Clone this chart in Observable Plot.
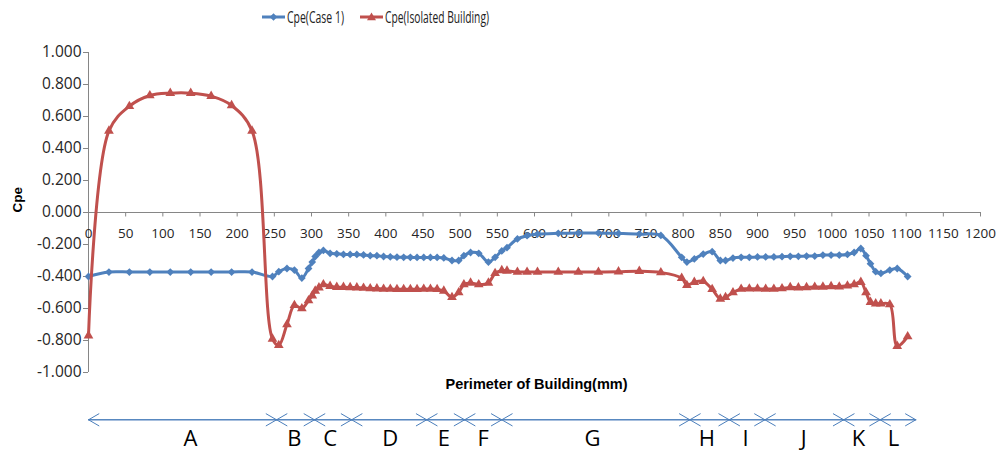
<!DOCTYPE html>
<html><head><meta charset="utf-8">
<script src="https://cdn.jsdelivr.net/npm/d3@7"></script>
<script src="https://cdn.jsdelivr.net/npm/@observablehq/plot@0.6"></script>
<style>
body{margin:0;background:#fff;width:999px;height:453px;overflow:hidden;}
#legend{position:relative;height:35px;width:999px;}
.item{position:absolute;top:8px;height:18px;display:flex;align-items:center;font-family:"Open Sans",sans-serif;font-size:15.5px;color:#222;white-space:nowrap;}
.item svg{margin-right:2px;flex:none;}
.item span{display:inline-block;transform-origin:0 50%;}
#chart svg{display:block;}
</style></head><body>
<div id="legend"></div>
<div id="chart"></div>
<script>
// ---- data ----
const perimeter = [0, 27.5, 55, 82.5, 110, 137.5, 165, 192.5, 220, 247.5,
  256, 267, 277, 287, 296,
  301, 305, 310, 316, 325, 334, 343,
  352, 361, 370, 379, 388, 397, 406, 415, 424, 433, 442, 451, 460, 469, 478,
  489, 498, 505,
  514, 525, 538, 547, 556,
  563, 577, 590, 604, 632, 659, 686, 713, 741, 770,
  798, 805, 815, 827, 839, 850,
  857, 867, 878, 889, 900, 911,
  922, 933, 944, 955, 966, 977, 988, 999, 1010, 1021, 1030,
  1039, 1046, 1052, 1059,
  1066, 1078, 1088, 1102];
const cpeCase1 = [-0.40, -0.372, -0.372, -0.372, -0.372, -0.372, -0.372, -0.372, -0.372, -0.40,
  -0.37, -0.35, -0.36, -0.41, -0.35,
  -0.31, -0.275, -0.25, -0.237, -0.255, -0.258, -0.262,
  -0.262, -0.262, -0.265, -0.27, -0.27, -0.275, -0.277, -0.279, -0.28, -0.28, -0.281, -0.281, -0.281, -0.281, -0.284,
  -0.30, -0.30, -0.27,
  -0.25, -0.255, -0.31, -0.28, -0.24,
  -0.22, -0.165, -0.145, -0.135, -0.13, -0.128, -0.128, -0.131, -0.135, -0.143,
  -0.28, -0.31, -0.29, -0.26, -0.245, -0.30,
  -0.30, -0.285, -0.28, -0.28, -0.278, -0.278,
  -0.278, -0.276, -0.274, -0.274, -0.272, -0.272, -0.266, -0.266, -0.266, -0.262, -0.25,
  -0.225, -0.27, -0.32, -0.37,
  -0.38, -0.36, -0.35, -0.40];
const cpeIsolated = [-0.77, 0.51, 0.664, 0.731, 0.746, 0.746, 0.727, 0.669, 0.51, -0.79,
  -0.83, -0.70, -0.58, -0.60, -0.55,
  -0.52, -0.49, -0.47, -0.45, -0.46, -0.467, -0.467,
  -0.468, -0.47, -0.472, -0.475, -0.476, -0.478, -0.478, -0.48, -0.48, -0.48, -0.48, -0.478, -0.478, -0.48, -0.49,
  -0.53, -0.50, -0.45,
  -0.44, -0.45, -0.44, -0.38, -0.362,
  -0.365, -0.372, -0.372, -0.372, -0.372, -0.372, -0.372, -0.37, -0.367, -0.375,
  -0.41, -0.455, -0.435, -0.43, -0.48, -0.54,
  -0.53, -0.50, -0.478, -0.477, -0.477, -0.478,
  -0.478, -0.475, -0.468, -0.47, -0.468, -0.466, -0.465, -0.462, -0.464, -0.458, -0.45,
  -0.435, -0.50, -0.56, -0.57,
  -0.57, -0.575, -0.835, -0.775];
const seriesNames = ["Cpe(Case 1)", "Cpe(Isolated Building)"];
const seriesColors = ["#4F81BD", "#C0504D"];
const xTicks = [0, 50, 100, 150, 200, 250, 300, 350, 400, 450, 500, 550, 600, 650, 700, 750, 800, 850, 900, 950, 1000, 1050, 1100, 1150, 1200];
const yTicks = [-1, -0.8, -0.6, -0.4, -0.2, 0, 0.2, 0.4, 0.6, 0.8, 1];
const segmentLabels = ["A", "B", "C", "D", "E", "F", "G", "H", "I", "J", "K", "L"];
const segmentBounds = [0, 253, 304, 354, 455, 506, 556, 809, 862, 910, 1016, 1065, 1113];
const segmentLabelX = [137, 277, 325, 406, 478, 531, 678, 832, 884, 962, 1036, 1083];
const xTitle = "Perimeter of Building(mm)";
const yTitle = "Cpe";

// ---- legend ----
const legend = document.getElementById("legend");
const legendLeft = [262, 360];
const legendTextWidth = [57, 104];
seriesNames.forEach((name, i) => {
  const item = document.createElement("div");
  item.className = "item";
  item.style.left = legendLeft[i] + "px";
  const marker = i === 0
    ? `<path d="M11.5,13.8 L15.3,10 L11.5,6.2 L7.7,10 Z" fill="${seriesColors[i]}"/>`
    : `<path d="M11.5,5.5 L16,13.2 L7,13.2 Z" fill="${seriesColors[i]}"/>`;
  item.innerHTML = `<svg width="23" height="20"><line x1="0" x2="23" y1="10" y2="10" stroke="${seriesColors[i]}" stroke-width="3"/>${marker}</svg><span>${name}</span>`;
  legend.appendChild(item);
  const span = item.querySelector("span");
  const w = span.getBoundingClientRect().width;
  if (w > 0) span.style.transform = `scaleX(${legendTextWidth[i] / w})`;
});

// ---- chart ----
const rows = perimeter.map((x, i) => ({x, case1: cpeCase1[i], iso: cpeIsolated[i]}));
const segs = segmentLabels.map((label, i) => ({label, x1: segmentBounds[i], x2: segmentBounds[i + 1], lx: segmentLabelX[i]}));
const axisGray = "#868686";
const tickFont = "Open Sans, Liberation Sans, sans-serif";
const arrowY = -1.2956;
const labelY = -1.4125;

const chart = Plot.plot({
  width: 999, height: 418,
  marginLeft: 88, marginRight: 19, marginTop: 17, marginBottom: 81,
  x: {domain: [0, 1200], axis: null},
  y: {domain: [-1, 1], axis: null},
  style: {fontFamily: tickFont, fontSize: "13px", background: "#fff", color: "#262626", overflow: "visible"},
  marks: [
    Plot.ruleX([0], {stroke: axisGray}),
    Plot.ruleY(yTicks, {y: d => d, x1: -6.7, x2: 0, stroke: axisGray}),
    Plot.text(yTicks, {y: d => d, x: 0, dx: -7, textAnchor: "end", text: d => d.toFixed(3), fontSize: 15.5, fontFamily: tickFont, fill: "#262626"}),
    Plot.ruleY([0], {stroke: axisGray}),
    Plot.ruleX(xTicks, {x: d => d, y1: 0, y2: -0.028, stroke: axisGray}),
    Plot.text(xTicks, {x: d => d, y: 0, dy: 21, text: d => String(d), fontSize: 13.5, fontFamily: tickFont, fill: "#262626"}),
    Plot.line(rows, {x: "x", y: "case1", stroke: seriesColors[0], strokeWidth: 3, curve: "catmull-rom"}),
    Plot.dot(rows, {x: "x", y: "case1", symbol: "diamond2", fill: seriesColors[0], stroke: "none", r: 3.5}),
    Plot.line(rows, {x: "x", y: "iso", stroke: seriesColors[1], strokeWidth: 3, curve: "catmull-rom"}),
    Plot.dot(rows, {x: "x", y: "iso", symbol: "triangle", fill: seriesColors[1], stroke: "none", r: 3.6}),
    Plot.text([yTitle], {y: 0, frameAnchor: "left", dx: -70.5, rotate: -90, fontWeight: "bold", fontSize: 13.5, fontFamily: "Liberation Sans, sans-serif", fill: "#000"}),
    Plot.text([xTitle], {frameAnchor: "bottom", dy: 16, dx: 2, fontWeight: "bold", fontSize: 14.5, fontFamily: "Liberation Sans, sans-serif", fill: "#000"}),
    Plot.arrow(segs, {x1: "x1", x2: "x2", y1: arrowY, y2: arrowY, stroke: "#4A7EBB", strokeWidth: 1, headLength: 18, headAngle: 60, inset: 0}),
    Plot.arrow(segs, {x1: "x2", x2: "x1", y1: arrowY, y2: arrowY, stroke: "#4A7EBB", strokeWidth: 1, headLength: 18, headAngle: 60, inset: 0}),
    Plot.text(segs, {x: "lx", y: labelY, text: "label", fontSize: 22, fontFamily: "Open Sans, sans-serif", fill: "#000"})
  ]
});
document.getElementById("chart").appendChild(chart);
</script>
</body></html>
